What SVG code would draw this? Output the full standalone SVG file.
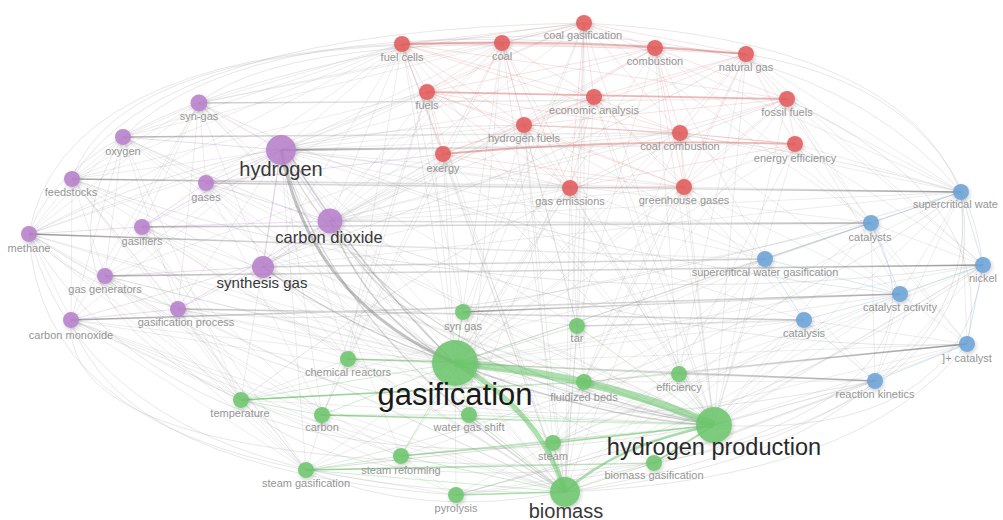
<svg xmlns="http://www.w3.org/2000/svg" width="1003" height="520" viewBox="0 0 1003 520">
<defs>
<style>
.f{fill:none;stroke:#a8a8a8;stroke-width:.6;opacity:.36}
.o{fill:none;stroke:#b4b4b4;stroke-width:.8;opacity:.4}
.mr{fill:none;stroke:#e88a8a;stroke-width:.7;opacity:.35}
.mp{fill:none;stroke:#c49ad4;stroke-width:.8;opacity:.45}
.mb{fill:none;stroke:#90bde4;stroke-width:.8;opacity:.45}
.mg{fill:none;stroke:#7ccb7c;stroke-width:.8;opacity:.45}
.fr{fill:none;stroke:url(#fadeR);stroke-width:1.5}
.fl{fill:none;stroke:url(#fadeL);stroke-width:1.5}
.gr{fill:none;stroke:url(#greenR);stroke-width:1.6}
.gk{fill:none;stroke:#7a7a7a}
.n{filter:url(#sh);opacity:.88}
.np{fill:#b77fcb}.nr{fill:#e25a5a}.nb{fill:#6aa2d6}.ng{fill:#6cc56c}
.l{font-family:"Liberation Sans",Arial,sans-serif;font-size:11px;fill:#959595;text-anchor:middle}
.L{font-family:"Liberation Sans",Arial,sans-serif;fill:#383838;text-anchor:middle}
</style>
<linearGradient id="fadeR" x1="0" y1="0" x2="1" y2="0"><stop offset="0" stop-color="#6a6a6a" stop-opacity=".7"/><stop offset=".3" stop-color="#8a8a8a" stop-opacity=".28"/><stop offset="1" stop-color="#aaa" stop-opacity=".03"/></linearGradient>
<linearGradient id="fadeL" x1="1" y1="0" x2="0" y2="0"><stop offset="0" stop-color="#6a6a6a" stop-opacity=".7"/><stop offset=".3" stop-color="#8a8a8a" stop-opacity=".28"/><stop offset="1" stop-color="#aaa" stop-opacity=".03"/></linearGradient>
<linearGradient id="greenR" x1="0" y1="0" x2="1" y2="0"><stop offset="0" stop-color="#5cb85c" stop-opacity=".75"/><stop offset="1" stop-color="#5cb85c" stop-opacity=".12"/></linearGradient>
<filter id="sh" x="-60%" y="-60%" width="220%" height="220%"><feGaussianBlur in="SourceAlpha" stdDeviation="2"/><feOffset dx="1" dy="2"/><feComponentTransfer><feFuncA type="linear" slope=".22"/></feComponentTransfer><feMerge><feMergeNode/><feMergeNode in="SourceGraphic"/></feMerge></filter>
</defs>
<rect width="1003" height="520" fill="#fff"/>
<g id="connectors">
<path class="o" d="M29 234Q60 60 402 44M29 234Q40 420 306 470M71 320Q120 470 456 495M72 179Q160 30 584 23M123 137Q250 10 655 48M584 23Q900 40 961 192M746 54Q960 90 983 265M402 44Q800 0 961 192M983 265Q960 440 714 425M967 344Q860 480 565 492M961 192Q1000 400 654 463M875 381Q780 470 565 492M306 470Q420 520 565 492M241 400Q330 500 654 463M29 234Q100 500 565 492M29 234Q80 80 584 23M71 320Q60 480 654 463M199 103Q300 20 746 54M961 192Q990 420 565 492M123 137Q20 300 241 400M871 223Q990 440 456 495M787 99Q1000 200 967 344M29 234Q200 520 714 425M72 179Q120 40 502 43M29 234Q200 420 961 192M72 179Q500 330 983 265M71 320Q500 200 746 54M29 234Q420 40 961 192M123 137Q600 360 967 344M105 276Q400 480 875 381M306 470Q700 380 961 192M241 400Q500 200 787 99M456 495Q800 400 983 265M199 103Q500 250 900 294"/>
<path class="f" d="M455 363L199 103M455 363L123 137M455 363L72 179M455 363L206 183M455 363L142 227M455 363L29 234M455 363L263 267M455 363L105 276M455 363L178 309M455 363L71 320M455 363L402 44M455 363L502 43M455 363L584 23M455 363L655 48M455 363L746 54M455 363L427 92M455 363L594 97M455 363L787 99M455 363L524 125M455 363L680 133M455 363L795 144M455 363L443 154M455 363L570 188M455 363L684 187M455 363L961 192M455 363L871 223M455 363L765 259M455 363L983 265M455 363L900 294M455 363L804 320M455 363L967 344M455 363L875 381M455 363L306 470M455 363L456 495M455 363L654 463
M714 425L123 137M714 425L72 179M714 425L206 183M714 425L142 227M714 425L29 234M714 425L263 267M714 425L105 276M714 425L178 309M714 425L71 320M714 425L402 44M714 425L502 43M714 425L584 23M714 425L655 48M714 425L746 54M714 425L427 92M714 425L594 97M714 425L787 99M714 425L524 125M714 425L680 133M714 425L795 144M714 425L443 154M714 425L570 188M714 425L684 187M714 425L961 192M714 425L871 223M714 425L765 259M714 425L983 265M714 425L900 294M714 425L804 320M714 425L967 344M714 425L875 381M714 425L463 312M714 425L348 359M714 425L241 400M714 425L306 470M714 425L456 495
M565 492L199 103M565 492L123 137M565 492L281 150M565 492L72 179M565 492L206 183M565 492L330 221M565 492L142 227M565 492L263 267M565 492L105 276M565 492L178 309M565 492L71 320M565 492L402 44M565 492L502 43M565 492L584 23M565 492L427 92M565 492L594 97M565 492L524 125M565 492L443 154M565 492L570 188M565 492L684 187M565 492L871 223M565 492L765 259M565 492L900 294M565 492L804 320M565 492L875 381M565 492L463 312M565 492L577 326M565 492L348 359M565 492L241 400M565 492L322 415M565 492L679 374M565 492L584 382
M281 150L402 44M281 150L502 43M281 150L584 23M281 150L655 48M281 150L427 92M281 150L594 97M281 150L524 125M281 150L680 133M281 150L570 188M281 150L684 187M281 150L871 223M281 150L765 259M281 150L804 320M281 150L463 312M281 150L577 326M281 150L348 359M281 150L241 400M281 150L322 415M281 150L469 415M281 150L401 456M281 150L306 470M281 150L553 443M281 150L72 179M281 150L29 234M281 150L105 276M281 150L71 320M281 150L178 309
M402 44L199 103M402 44L123 137M402 44L72 179M402 44L29 234M402 44L206 183M402 44L330 221M402 44L263 267M402 44L463 312M402 44L348 359M402 44L553 443M502 43L199 103M502 43L330 221M502 43L263 267M502 43L577 326M502 43L469 415M502 43L322 415M584 23L199 103M584 23L123 137M584 23L330 221M584 23L463 312M584 23L577 326M584 23L871 223M584 23L961 192M584 23L584 382M655 48L330 221M655 48L263 267M655 48L577 326M655 48L679 374M655 48L765 259M655 48L871 223M746 54L961 192M746 54L871 223M746 54L983 265M746 54L330 221M746 54L679 374M746 54L553 443M427 92L72 179M427 92L29 234M427 92L142 227M427 92L330 221M427 92L348 359M427 92L306 470M594 97L330 221M594 97L679 374M594 97L765 259M594 97L469 415M787 99L961 192M787 99L983 265M787 99L871 223M787 99L900 294M787 99L330 221M787 99L584 382M524 125L330 221M524 125L263 267M524 125L577 326M524 125L553 443M524 125L765 259M680 133L330 221M680 133L961 192M680 133L900 294M680 133L584 382M795 144L961 192M795 144L983 265M795 144L967 344M795 144L679 374M443 154L330 221M443 154L263 267M443 154L105 276M443 154L463 312M443 154L322 415M570 188L330 221M570 188L263 267M570 188L765 259M570 188L577 326M570 188L401 456M570 188L679 374M684 187L330 221M684 187L961 192M684 187L900 294M684 187L804 320M684 187L584 382
M961 192L967 344M961 192L765 259M961 192L875 381M961 192L900 294M961 192L584 382M961 192L330 221M961 192L263 267M871 223L983 265M871 223L967 344M871 223L875 381M871 223L330 221M871 223L463 312M871 223L577 326M765 259L875 381M765 259L553 443M765 259L306 470M765 259L241 400M983 265L875 381M983 265L679 374M983 265L553 443M983 265L654 463M900 294L967 344M900 294L875 381M900 294L553 443M900 294L463 312M804 320L967 344M804 320L577 326M804 320L401 456M967 344L679 374M967 344L654 463M967 344L553 443M875 381L679 374M875 381L584 382M875 381L654 463M875 381L456 495
M199 103L123 137M199 103L72 179M199 103L206 183M199 103L142 227M199 103L29 234M199 103L105 276M199 103L178 309M199 103L71 320M199 103L263 267M199 103L330 221M123 137L72 179M123 137L206 183M123 137L29 234M123 137L105 276M123 137L178 309M123 137L71 320M123 137L241 400M72 179L29 234M72 179L105 276M72 179L178 309M72 179L71 320M72 179L241 400M72 179L322 415M72 179L306 470M29 234L105 276M29 234L71 320M29 234L241 400M29 234L306 470M29 234L401 456M29 234L322 415M71 320L241 400M71 320L306 470M71 320L456 495M71 320L401 456M71 320L322 415M105 276L241 400M105 276L306 470M105 276L178 309M142 227L241 400M142 227L306 470M142 227L348 359M178 309L306 470M178 309L241 400M178 309L348 359M206 183L348 359M206 183L322 415
M241 400L306 470M241 400L401 456M241 400L348 359M306 470L456 495M306 470L553 443M456 495L654 463M456 495L553 443M456 495L401 456M679 374L584 382M679 374L553 443M577 326L584 382M463 312L577 326"/>
<path class="mr" d="M402 44L584 23M402 44L655 48M402 44L427 92M402 44L524 125M402 44L594 97M402 44L443 154M402 44L570 188M402 44L680 133M402 44L787 99M502 43L584 23M502 43L427 92M502 43L524 125M502 43L594 97M502 43L443 154M502 43L570 188M502 43L746 54M584 23L655 48M584 23L746 54M584 23L594 97M584 23L570 188M584 23L680 133M584 23L427 92M655 48L746 54M655 48L680 133M655 48L787 99M655 48L524 125M655 48L684 187M655 48L427 92M746 54L787 99M746 54L680 133M746 54L795 144M746 54L594 97M746 54L684 187M746 54L524 125M427 92L524 125M427 92L443 154M427 92L570 188M427 92L684 187M427 92L680 133M594 97L524 125M594 97L680 133M594 97L570 188M594 97L684 187M594 97L443 154M787 99L680 133M787 99L795 144M787 99L684 187M787 99L524 125M524 125L443 154M524 125L570 188M524 125L684 187M680 133L684 187M680 133L570 188M680 133L443 154M795 144L684 187M795 144L570 188M443 154L570 188M443 154L684 187"/>
<path class="mp" d="M281 150L206 183M281 150L330 221M281 150L142 227M281 150L263 267M142 227L206 183M142 227L330 221M330 221L206 183M263 267L330 221M263 267L105 276M263 267L178 309M29 234L142 227M199 103L281 150M123 137L281 150M178 309L330 221M71 320L178 309M206 183L443 154"/>
<path class="mb" d="M961 192L871 223M961 192L983 265M871 223L765 259M871 223L900 294M765 259L900 294M900 294L983 265M804 320L900 294M875 381L967 344M967 344L983 265M765 259L804 320M875 381L804 320"/>
<path class="mg" d="M455 363L463 312M455 363L577 326M455 363L584 382M455 363L679 374M455 363L469 415M455 363L553 443M455 363L401 456M455 363L322 415M455 363L241 400M714 425L584 382M714 425L679 374M714 425L469 415M714 425L577 326M565 492L553 443M565 492L654 463M565 492L401 456M565 492L306 470M565 492L469 415M401 456L553 443M306 470L401 456M241 400L322 415M322 415L469 415"/>
<path class="mr" style="stroke-width:1.8;opacity:.5;stroke:#d87070" d="M402 44Q580 38 746 54M427 92L787 99M443 154Q620 138 795 144"/>
<path class="mr" style="stroke-width:1.2;opacity:.45" d="M680 133L795 144M524 125L680 133M570 188L684 187M402 44L502 43"/>
<path class="fr" d="M199 103L787 99M123 137L680 133M72 179L684 187M206 183L570 188M142 227L871 223M29 234L765 259M330 221L871 225M263 267L765 259M105 276L983 265M178 309L804 320M71 320L900 294"/>
<path class="fr" style="stroke-width:2.2" d="M281 150L795 144"/>
<path class="fl" d="M961 192L206 183M871 223L142 227M765 259L263 267M983 265L105 276M900 294L71 320M804 320L178 309M875 381L348 359M967 344L584 382"/>
<path class="fr" d="M463 312L900 294M577 326L804 321M679 374L875 380"/>
<path class="gr" d="M241 400L584 382M322 415L714 425M401 456L714 425M306 470L654 463M348 359L455 362"/>
<path class="mg" style="stroke-width:1.6;opacity:.65" d="M456 495L565 492M553 443L714 425M654 463L714 425"/>
<path class="gk" style="stroke-width:3;opacity:.45" d="M281 150Q310 300 455 363"/>
<path class="gk" style="stroke-width:1.5;opacity:.35" d="M290 155Q360 270 455 363M330 221Q370 320 455 363M263 267Q350 330 455 363M455 363Q600 420 714 425"/>
<path class="gk" style="stroke-width:1.2;opacity:.28" d="M281 150Q380 360 714 425M330 221Q420 380 714 425M281 150Q330 330 565 492"/>
<path fill="none" stroke="#6cc56c" stroke-width="8" opacity=".55" d="M455 363Q600 375 714 425"/>
<path fill="none" stroke="#6cc56c" stroke-width="5" opacity=".55" d="M455 363Q540 410 565 492"/>
<path fill="none" stroke="#6cc56c" stroke-width="2.5" opacity=".55" d="M565 492Q615 445 714 425"/>
</g>
<g id="nodes">
<g id="n-syn-gas"><circle class="n np" cx="199" cy="103" r="8.5"/><text class="l" x="199" y="120">syn-gas</text></g>
<g id="n-oxygen"><circle class="n np" cx="123" cy="137" r="8"/><text class="l" x="123" y="155">oxygen</text></g>
<g id="n-feedstocks"><circle class="n np" cx="72" cy="179" r="8"/><text class="l" x="71" y="196">feedstocks</text></g>
<g id="n-gases"><circle class="n np" cx="206" cy="183" r="8"/><text class="l" x="206" y="201">gases</text></g>
<g id="n-gasifiers"><circle class="n np" cx="142" cy="227" r="8"/><text class="l" x="142" y="245">gasifiers</text></g>
<g id="n-methane"><circle class="n np" cx="29" cy="234" r="8"/><text class="l" x="29" y="252">methane</text></g>
<g id="n-gas-generators"><circle class="n np" cx="105" cy="276" r="8"/><text class="l" x="105" y="293">gas generators</text></g>
<g id="n-gasification-process"><circle class="n np" cx="178" cy="309" r="8"/><text class="l" x="186" y="326">gasification process</text></g>
<g id="n-carbon-monoxide"><circle class="n np" cx="71" cy="320" r="8"/><text class="l" x="71" y="339">carbon monoxide</text></g>
<g id="n-hydrogen"><circle class="n np" cx="281" cy="150" r="15"/><text class="L" x="281" y="176" font-size="20">hydrogen</text></g>
<g id="n-carbon-dioxide"><circle class="n np" cx="330" cy="221" r="12.5"/><text class="L" x="329" y="243" font-size="16.5">carbon dioxide</text></g>
<g id="n-synthesis-gas"><circle class="n np" cx="263" cy="267" r="11"/><text class="L" x="262" y="288" font-size="15">synthesis gas</text></g>
<g id="n-fuel-cells"><circle class="n nr" cx="402" cy="44" r="8"/><text class="l" x="402" y="61">fuel cells</text></g>
<g id="n-coal"><circle class="n nr" cx="502" cy="43" r="8"/><text class="l" x="502" y="60">coal</text></g>
<g id="n-coal-gasification"><circle class="n nr" cx="584" cy="23" r="8"/><text class="l" x="583" y="39">coal gasification</text></g>
<g id="n-combustion"><circle class="n nr" cx="655" cy="48" r="8"/><text class="l" x="655" y="65">combustion</text></g>
<g id="n-natural-gas"><circle class="n nr" cx="746" cy="54" r="8"/><text class="l" x="746" y="71">natural gas</text></g>
<g id="n-fuels"><circle class="n nr" cx="427" cy="92" r="8"/><text class="l" x="427" y="109">fuels</text></g>
<g id="n-economic-analysis"><circle class="n nr" cx="594" cy="97" r="8"/><text class="l" x="594" y="114">economic analysis</text></g>
<g id="n-fossil-fuels"><circle class="n nr" cx="787" cy="99" r="8"/><text class="l" x="787" y="116">fossil fuels</text></g>
<g id="n-hydrogen-fuels"><circle class="n nr" cx="524" cy="125" r="8"/><text class="l" x="524" y="142">hydrogen fuels</text></g>
<g id="n-coal-combustion"><circle class="n nr" cx="680" cy="133" r="8"/><text class="l" x="680" y="150">coal combustion</text></g>
<g id="n-energy-efficiency"><circle class="n nr" cx="795" cy="144" r="8"/><text class="l" x="795" y="162">energy efficiency</text></g>
<g id="n-exergy"><circle class="n nr" cx="443" cy="154" r="8"/><text class="l" x="443" y="172">exergy</text></g>
<g id="n-gas-emissions"><circle class="n nr" cx="570" cy="188" r="8"/><text class="l" x="570" y="205">gas emissions</text></g>
<g id="n-greenhouse-gases"><circle class="n nr" cx="684" cy="187" r="8"/><text class="l" x="684" y="204">greenhouse gases</text></g>
<g id="n-supercritical-water"><circle class="n nb" cx="961" cy="192" r="8"/><text class="l" x="913" y="208" style="text-anchor:start">supercritical wate</text></g>
<g id="n-catalysts"><circle class="n nb" cx="871" cy="223" r="8"/><text class="l" x="870" y="241">catalysts</text></g>
<g id="n-supercritical-water-gasification"><circle class="n nb" cx="765" cy="259" r="8"/><text class="l" x="765" y="276">supercritical water gasification</text></g>
<g id="n-nickel"><circle class="n nb" cx="983" cy="265" r="8"/><text class="l" x="983" y="282">nickel</text></g>
<g id="n-catalyst-activity"><circle class="n nb" cx="900" cy="294" r="8"/><text class="l" x="900" y="311">catalyst activity</text></g>
<g id="n-catalysis"><circle class="n nb" cx="804" cy="320" r="8"/><text class="l" x="804" y="337">catalysis</text></g>
<g id="n-ni-catalyst"><circle class="n nb" cx="967" cy="344" r="8"/><text class="l" x="967" y="362">]+ catalyst</text></g>
<g id="n-reaction-kinetics"><circle class="n nb" cx="875" cy="381" r="8"/><text class="l" x="875" y="398">reaction kinetics</text></g>
<g id="n-syn-gas-2"><circle class="n ng" cx="463" cy="312" r="8"/><text class="l" x="463" y="330">syn gas</text></g>
<g id="n-tar"><circle class="n ng" cx="577" cy="326" r="8"/><text class="l" x="577" y="342">tar</text></g>
<g id="n-chemical-reactors"><circle class="n ng" cx="348" cy="359" r="8"/><text class="l" x="348" y="376">chemical reactors</text></g>
<g id="n-efficiency"><circle class="n ng" cx="679" cy="374" r="8"/><text class="l" x="679" y="391">efficiency</text></g>
<g id="n-fluidized-beds"><circle class="n ng" cx="584" cy="382" r="8"/><text class="l" x="584" y="401">fluidized beds</text></g>
<g id="n-temperature"><circle class="n ng" cx="241" cy="400" r="8"/><text class="l" x="240" y="417">temperature</text></g>
<g id="n-carbon"><circle class="n ng" cx="322" cy="415" r="8"/><text class="l" x="322" y="431">carbon</text></g>
<g id="n-water-gas-shift"><circle class="n ng" cx="469" cy="415" r="8"/><text class="l" x="469" y="431">water gas shift</text></g>
<g id="n-steam"><circle class="n ng" cx="553" cy="443" r="8"/><text class="l" x="553" y="460">steam</text></g>
<g id="n-steam-reforming"><circle class="n ng" cx="401" cy="456" r="8"/><text class="l" x="401" y="474">steam reforming</text></g>
<g id="n-biomass-gasification"><circle class="n ng" cx="654" cy="463" r="8"/><text class="l" x="654" y="479">biomass gasification</text></g>
<g id="n-steam-gasification"><circle class="n ng" cx="306" cy="470" r="8"/><text class="l" x="306" y="487">steam gasification</text></g>
<g id="n-pyrolysis"><circle class="n ng" cx="456" cy="495" r="8"/><text class="l" x="456" y="512">pyrolysis</text></g>
<g id="n-gasification"><circle class="n ng" cx="455" cy="363" r="23"/><text class="L" x="455" y="405" font-size="31" style="fill:#1a1a1a">gasification</text></g>
<g id="n-hydrogen-production"><circle class="n ng" cx="714" cy="425" r="18"/><text class="L" x="714" y="455" font-size="23.5" style="fill:#2a2a2a">hydrogen production</text></g>
<g id="n-biomass"><circle class="n ng" cx="565" cy="492" r="15"/><text class="L" x="566" y="518" font-size="20">biomass</text></g>
</g>
</svg>
